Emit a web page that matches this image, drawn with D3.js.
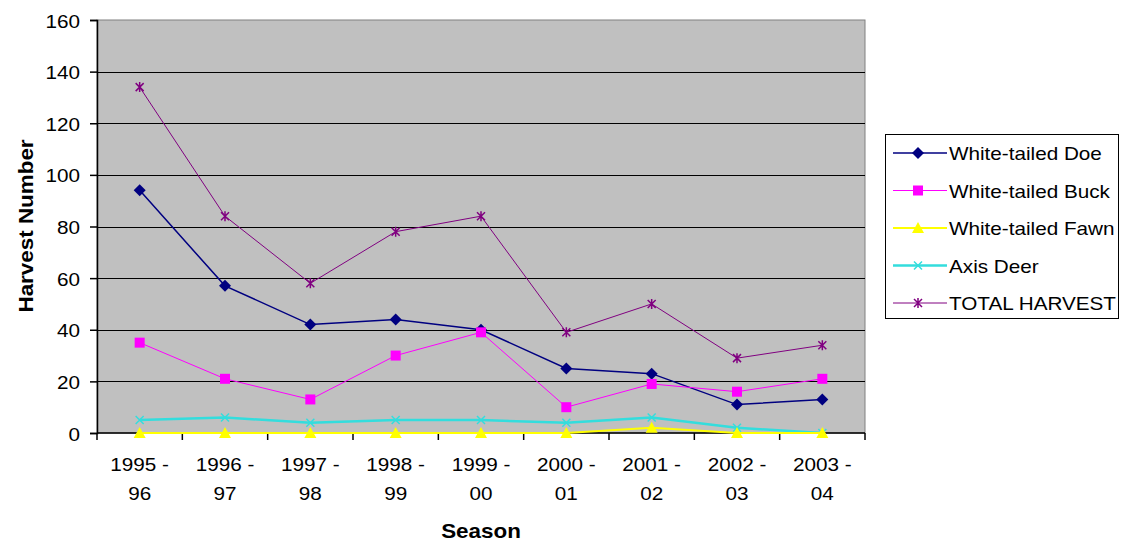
<!DOCTYPE html>
<html>
<head>
<meta charset="utf-8">
<script src="https://cdn.jsdelivr.net/npm/d3@7"></script>
<style>
body { margin: 0; background: #fff; }
svg { font-family: "Liberation Sans", Arial, sans-serif; }
</style>
</head>
<body>
<div id="chart"></div>
<script>
var seasons = ["1995 -|96", "1996 -|97", "1997 -|98", "1998 -|99", "1999 -|00", "2000 -|01", "2001 -|02", "2002 -|03", "2003 -|04"];
var doe = [94, 57, 42, 44, 40, 25, 23, 11, 13];
var buck = [35, 21, 13, 30, 39, 10, 19, 16, 21];
var fawn = [0, 0, 0, 0, 0, 0, 2, 0, 0];
var axisDeer = [5, 6, 4, 5, 5, 4, 6, 2, 0];
var total = [134, 84, 58, 78, 84, 39, 50, 29, 34];
var seriesNames = ["White-tailed Doe", "White-tailed Buck", "White-tailed Fawn", "Axis Deer", "TOTAL HARVEST"];
var yTicks = [0, 20, 40, 60, 80, 100, 120, 140, 160];

var series = [
    { name: seriesNames[0], values: doe, color: "#000080", width: 1.5, marker: "diamond" },
    { name: seriesNames[1], values: buck, color: "#ff00ff", width: 1, marker: "square" },
    { name: seriesNames[2], values: fawn, color: "#ffff00", width: 2, marker: "triangle" },
    { name: seriesNames[3], values: axisDeer, color: "#33dddd", width: 2.5, marker: "cross" },
    { name: seriesNames[4], values: total, color: "#800080", width: 1, marker: "star" }
];

var svgWidth = 1122, svgHeight = 544;
var plotLeft = 97, plotRight = 865, plotTop = 20, plotBottom = 433;
// the reference text is a bit wider than the font, stretch it
var stretch = 1.15;

var svg = d3.select("#chart").append("svg")
    .attr("width", svgWidth)
    .attr("height", svgHeight);

function addText(parent, px, py, str, size, anchor, bold, rotate) {
    var t = parent.append("text")
        .attr("transform", "translate(" + px + "," + py + ")" + (rotate ? " rotate(" + rotate + ")" : "") + " scale(" + stretch + ",1)")
        .attr("text-anchor", anchor || "start")
        .style("font-size", size + "px")
        .attr("fill", "#000")
        .text(str);
    if (bold) t.style("font-weight", "bold");
    return t;
}

var x = d3.scaleBand()
    .domain(d3.range(seasons.length))
    .range([plotLeft, plotRight]);
var y = d3.scaleLinear()
    .domain([0, 160])
    .range([plotBottom, plotTop]);

// plot background
svg.append("rect")
    .attr("x", plotLeft).attr("y", plotTop)
    .attr("width", plotRight - plotLeft).attr("height", plotBottom - plotTop)
    .attr("fill", "#c0c0c0")
    .attr("stroke", "#808080");

// gridlines
svg.selectAll(".grid").data(yTicks.filter(function (d) { return d > 0 && d < 160; }))
    .enter().append("line")
    .attr("x1", plotLeft).attr("x2", plotRight)
    .attr("y1", function (d) { return Math.round(y(d)) + 0.5; })
    .attr("y2", function (d) { return Math.round(y(d)) + 0.5; })
    .attr("stroke", "#000").attr("stroke-width", 1.2);

// y axis
var yAxis = svg.append("g")
    .attr("transform", "translate(" + plotLeft + ",0)")
    .call(d3.axisLeft(y).tickValues(yTicks).tickSize(7).tickPadding(10));
yAxis.select(".domain").attr("stroke", "#000").attr("stroke-width", 1.5);
yAxis.selectAll(".tick line").attr("stroke", "#000").attr("stroke-width", 1.5);
yAxis.selectAll(".tick text").remove();
yAxis.selectAll(".tick").each(function (d) {
    addText(d3.select(this), -17, 7, d, 18, "end");
});

// x axis
var xAxis = svg.append("g")
    .attr("transform", "translate(0," + plotBottom + ")");
xAxis.append("line")
    .attr("x1", plotLeft).attr("x2", plotRight)
    .attr("y1", 0).attr("y2", 0)
    .attr("stroke", "#000").attr("stroke-width", 1.5);
var bounds = d3.range(seasons.length + 1).map(function (i) { return plotLeft + i * x.step(); });
xAxis.selectAll(".tick").data(bounds).enter().append("line")
    .attr("x1", function (d) { return d; }).attr("x2", function (d) { return d; })
    .attr("y1", 0).attr("y2", 7)
    .attr("stroke", "#000").attr("stroke-width", 1.5);
seasons.forEach(function (d, i) {
    var parts = d.split("|");
    var cx = x(i) + x.bandwidth() / 2;
    addText(xAxis, cx, 38, parts[0], 18, "middle");
    addText(xAxis, cx, 67, parts[1], 18, "middle");
});

// axis titles
addText(svg, (plotLeft + plotRight) / 2, 538, "Season", 19.5, "middle", true);
addText(svg, 33, 226, "Harvest Number", 19.5, "middle", true, -90);

function drawMarker(g, type, color) {
    if (type == "diamond") {
        g.append("path").attr("d", "M0,-6L6,0L0,6L-6,0Z").attr("fill", color);
    } else if (type == "square") {
        g.append("rect").attr("x", -5).attr("y", -5).attr("width", 10).attr("height", 10).attr("fill", color);
    } else if (type == "triangle") {
        g.append("path").attr("d", "M0,-6L6,5L-6,5Z").attr("fill", color);
    } else if (type == "cross") {
        g.append("path").attr("d", "M-4,-4L4,4M-4,4L4,-4").attr("stroke", color).attr("stroke-width", 1.5);
    } else if (type == "star") {
        g.append("path").attr("d", "M-4,-4L4,4M-4,4L4,-4M0,-5L0,5").attr("stroke", color).attr("stroke-width", 1.5);
    }
}

var line = d3.line()
    .x(function (d, i) { return x(i) + x.bandwidth() / 2; })
    .y(function (d) { return y(d); });

// draw from back to front
var order = [4, 0, 1, 3, 2];
order.forEach(function (k) {
    var s = series[k];
    svg.append("path")
        .datum(s.values)
        .attr("d", line)
        .attr("fill", "none")
        .attr("stroke", s.color)
        .attr("stroke-width", s.width);
    s.values.forEach(function (v, i) {
        var g = svg.append("g")
            .attr("transform", "translate(" + (x(i) + x.bandwidth() / 2) + "," + y(v) + ")");
        drawMarker(g, s.marker, s.color);
    });
});

// legend
var legend = svg.append("g");
legend.append("rect")
    .attr("x", 885.5).attr("y", 134.5)
    .attr("width", 233).attr("height", 184)
    .attr("fill", "#fff").attr("stroke", "#000");
series.forEach(function (s, i) {
    var ly = 153 + i * 37.5;
    legend.append("line")
        .attr("x1", 893).attr("x2", 947)
        .attr("y1", ly).attr("y2", ly)
        .attr("stroke", s.color).attr("stroke-width", s.width);
    var g = legend.append("g").attr("transform", "translate(918," + ly + ")");
    drawMarker(g, s.marker, s.color);
    addText(legend, 949, ly + 7, s.name, 18, "start");
});
</script>
</body>
</html>
